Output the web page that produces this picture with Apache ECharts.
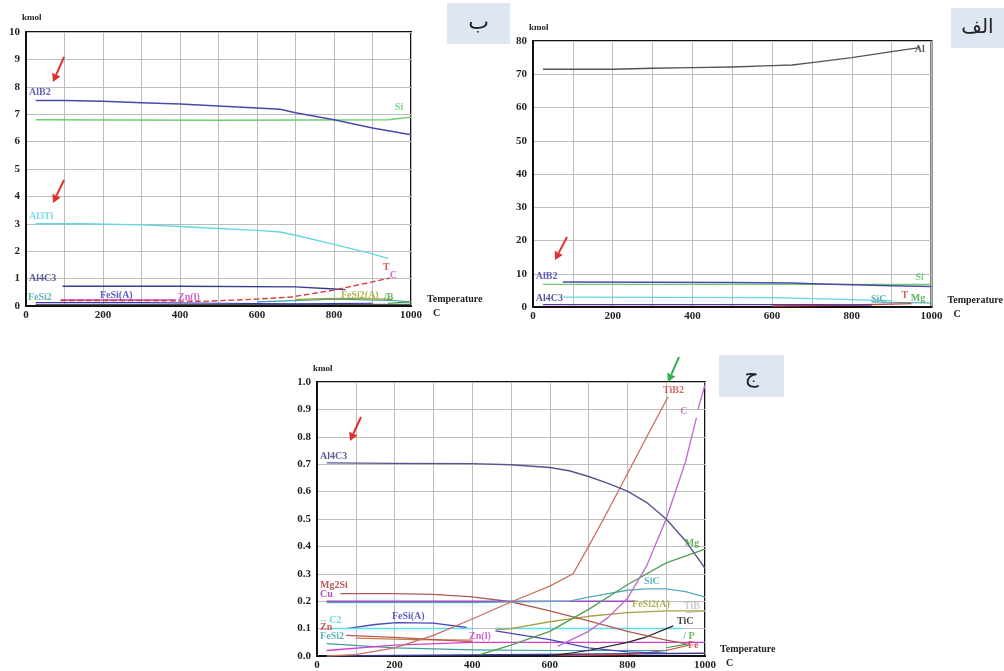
<!DOCTYPE html>
<html><head><meta charset="utf-8">
<script src="https://cdn.jsdelivr.net/npm/echarts/dist/echarts.min.js"></script>
<style>html,body{margin:0;padding:0;background:#fff}#c{width:1004px;height:671px}</style>
</head><body><div id="c"></div>
<script>
// ---------- DATA (temperature C, kmol) ----------
// Panel "ب" (top-left)
const bAlB2  = [[25,7.5],[100,7.5],[200,7.47],[300,7.42],[400,7.37],[500,7.3],[600,7.23],[660,7.18],[700,7.05],[800,6.8],[900,6.5],[1000,6.25]];
const bSi    = [[25,6.8],[500,6.78],[940,6.8],[980,6.86],[1000,6.9]];
const bAl3Ti = [[25,3.0],[150,3.0],[300,2.96],[400,2.9],[500,2.83],[600,2.76],[660,2.7],[700,2.58],[800,2.25],[900,1.9],[940,1.74]];
const bAl4C3 = [[95,0.72],[400,0.72],[700,0.7],[800,0.62],[830,0.6]];
const bTiB2  = [[90,0.2],[300,0.2],[460,0.17],[600,0.25],[690,0.33],[800,0.58],[900,0.88],[945,1.02]];
const bZnl   = [[90,0.22],[390,0.22]];
const bFeSiA = [[25,0.12],[300,0.12],[500,0.1],[700,0.08],[900,0.1]];
const bFeSi2A= [[700,0.24],[800,0.28],[950,0.25]];
const bSiC   = [[600,0.15],[800,0.25],[950,0.2],[1000,0.15]];
const bBase  = [[25,0.05],[1000,0.06]];
const bB     = [[940,0.1],[1000,0.15]];

// Panel "الف" (top-right)
const aAl    = [[25,71.5],[200,71.5],[300,71.8],[400,72],[500,72.2],[600,72.6],[650,72.8],[700,73.5],[800,75],[900,76.8],[970,78]];
const aAlB2  = [[75,7.5],[500,7.4],[650,7.2],[700,7.0],[800,6.7],[900,6.4],[1000,6.2]];
const aSi    = [[25,6.8],[1000,6.8]];
const aAl3Ti = [[75,3.0],[600,2.8],[800,2.2],[900,1.9]];
const aAl4C3 = [[25,0.7],[700,0.7],[850,0.6]];
const aTiB2  = [[600,0.3],[800,0.6],[950,1.0]];
const aSiC   = [[850,1.5],[1000,1.2]];

// Panel "ج" (bottom)
const cAl4C3 = [[25,0.705],[200,0.703],[400,0.702],[500,0.698],[600,0.688],[650,0.676],[700,0.655],[750,0.63],[800,0.602],[850,0.56],[900,0.5],[950,0.42],[1000,0.32]];
const cTiB2  = [[25,0.0],[100,0.005],[200,0.03],[300,0.075],[400,0.135],[500,0.197],[600,0.255],[660,0.3],[700,0.4],[750,0.53],[800,0.665],[850,0.8],[905,0.946]];
const cC     = [[620,0.035],[700,0.09],[750,0.14],[800,0.21],[850,0.33],[900,0.5],[950,0.71],[978,0.87],[980,null],[982,0.9],[1000,0.99]];
const cMg    = [[420,0.005],[500,0.04],[600,0.09],[700,0.17],[800,0.26],[900,0.34],[1000,0.39]];
const cSiC   = [[25,0.195],[400,0.195],[650,0.2],[700,0.215],[800,0.24],[850,0.245],[900,0.245],[950,0.235],[1000,0.215]];
const cCu    = [[25,0.2],[500,0.2],[820,0.2]];
const cMg2Si = [[60,0.228],[200,0.228],[300,0.225],[400,0.216],[500,0.198],[600,0.165],[700,0.128],[800,0.09],[900,0.058],[950,0.045]];
const cFeSi2A= [[460,0.095],[500,0.1],[600,0.125],[700,0.145],[800,0.158],[900,0.165],[1000,0.165]];
const cTiB   = [[950,0.158],[1000,0.165]];
const cTiC   = [[600,0.0],[700,0.02],[800,0.05],[850,0.07],[918,0.11]];
const cC2    = [[25,0.1],[400,0.1],[430,null],[460,0.1],[940,0.1]];
const cFeSiA = [[75,0.1],[150,0.115],[205,0.122],[300,0.12],[386,0.104],[420,null],[460,0.092],[600,0.06],[700,0.03],[800,0.015],[900,0.01]];
const cZn    = [[75,0.075],[200,0.068],[300,0.06],[400,0.052]];
const cZnl   = [[25,0.02],[200,0.04],[400,0.05],[1000,0.05]];
const cFeSi2 = [[25,0.045],[200,0.03],[400,0.022],[600,0.02],[900,0.02]];
const cFe    = [[600,0.0],[800,0.005],[900,0.02],[960,0.04]];
const cP     = [[900,0.03],[960,0.045]];
const cOlive = [[100,0.065],[250,0.06],[400,0.058]];
const cBase  = [[25,0.0],[1000,0.01]];

// tick label values
const xTicks = [0,200,400,600,800,1000];

// ---------- ANNOTATIONS (text, data position) ----------
const notesB = [['AlB2',8,7.81,'#3a3aa8'],['Si',958,7.23,'#5cc85c'],['Al3Ti',8,3.28,'#5ad0e0'],['Al4C3',8,0.99,'#2f2f80'],
  ['FeSi2',5,0.33,'#3a9fa0'],['FeSi(A)',192,0.4,'#3535b0'],['Zn(l)',395,0.33,'#c040c0'],['FeSi2(A)',818,0.4,'#a0a030'],
  ['/B',930,0.33,'#40a040'],['T',927,1.39,'#d03030'],['C',945,1.12,'#d040d0']];
const notesA = [['Al',958,77.6,'#333333'],['AlB2',7,9.3,'#3a3aa8'],['Al4C3',7,2.7,'#2f2f80'],['Si',960,9.0,'#5cc85c'],
  ['SiC',848,2.4,'#3a9fa0'],['T',925,3.6,'#d03030'],['Mg',948,2.7,'#40a040']];
const notesC = [['Al4C3',8,0.727,'#33337a'],['TiB2',892,0.971,'#d04040'],['C',936,0.891,'#c050d0'],['Mg',948,0.411,'#40a040'],
  ['SiC',843,0.273,'#3a9fb0'],['Mg2Si',8,0.258,'#a03030'],['Cu',8,0.226,'#9030a0'],['FeSi2(A)',812,0.189,'#a0a030'],
  ['TiB',946,0.182,'#c0c0c0'],['-- C2',8,0.131,'#50d0e0'],['Zn',8,0.105,'#d03030'],['FeSi(A)',193,0.145,'#3535b0'],
  ['TiC',928,0.127,'#111111'],['FeSi2',8,0.073,'#3a9fa0'],['Zn(l)',392,0.073,'#c040c0'],['/ P',944,0.073,'#40a040'],['Fe',956,0.04,'#d03030']];

const SERIF = 'Liberation Serif';
function line(data, color, g, w, dash){
  return {type:'line', data:data, xAxisIndex:g, yAxisIndex:g, showSymbol:false, symbol:'none', smooth:false,
    connectNulls:false, silent:true, z:3,
    lineStyle:{color:color, width:w||1.3, type:dash||'solid', join:'round'}};
}
function notes(list, g){
  return {type:'scatter', xAxisIndex:g, yAxisIndex:g, symbolSize:0, silent:true, clip:false, z:5,
    label:{show:true, position:'right', distance:0, fontFamily:SERIF, fontWeight:'bold', fontSize:10},
    data:list.map(n=>({value:[n[1],n[2]], label:{formatter:n[0], color:n[3]}}))};
}
function xAx(g, gap){
  return {gridIndex:g, type:'value', min:0, max:1000, interval:100,
    axisLine:{show:true, onZero:false, lineStyle:{color:'#111', width:2}}, axisTick:{show:false},
    splitLine:{show:true, lineStyle:{color:'#bcbcbc', width:1}},
    axisLabel:{formatter:v=>xTicks.indexOf(v)>=0?String(v):'', fontFamily:SERIF, fontWeight:'bold', fontSize:11, color:'#222', margin:4, showMinLabel:true, showMaxLabel:true},
    name:'{t|Temperature}\n{c|C}', nameLocation:'end', nameGap:gap,
    nameTextStyle:{fontFamily:SERIF, fontWeight:'bold', fontSize:10, color:'#222', align:'left', lineHeight:14,
      rich:{t:{fontFamily:SERIF, fontWeight:'bold', fontSize:10, color:'#222'}, c:{fontFamily:SERIF, fontWeight:'bold', fontSize:10, color:'#222', padding:[0,0,0,6]}}}};
}
function yAx(g, max, iv, fmt, gap){
  return {gridIndex:g, type:'value', min:0, max:max, interval:iv,
    axisLine:{show:true, lineStyle:{color:'#111', width:2}}, axisTick:{show:false},
    splitLine:{show:true, lineStyle:{color:'#bcbcbc', width:1}},
    axisLabel:{formatter:fmt, fontFamily:SERIF, fontWeight:'bold', fontSize:11, color:'#222', margin:6},
    name:'kmol', nameLocation:'end', nameGap:gap,
    nameTextStyle:{fontFamily:SERIF, fontWeight:'bold', fontSize:9, color:'#222', align:'left', padding:[0,0,0,-4]}};
}
function arrow(x1,y1,x2,y2,color){
  const a=Math.atan2(y2-y1,x2-x1), L=8, W=4.5;
  const bx=x2-L*Math.cos(a), by=y2-L*Math.sin(a);
  return [{type:'line', shape:{x1:x1,y1:y1,x2:bx,y2:by}, style:{stroke:color, lineWidth:2}, z:10},
    {type:'polygon', shape:{points:[[x2,y2],[bx+W*Math.sin(a),by-W*Math.cos(a)],[bx-W*Math.sin(a),by+W*Math.cos(a)]]}, style:{fill:color}, z:10}];
}
function box(x,y,w,h,txt,fs){
  return [{type:'rect', shape:{x:x,y:y,width:w,height:h}, style:{fill:'#dde6f1'}, z:1},
    {type:'text', x:x+w/2, y:y+h/2, style:{text:txt, fontFamily:'DejaVu Sans', fontSize:fs, fill:'#222', align:'center', verticalAlign:'middle'}, z:2}];
}

const chart = echarts.init(document.getElementById('c'), null, {renderer:'canvas'});
const gridStyle = {show:true, borderColor:'#111', borderWidth:2, backgroundColor:'transparent', containLabel:false};
chart.setOption({
  animation:false,
  backgroundColor:'#ffffff',
  grid:[Object.assign({left:26, top:32, width:385, height:274}, gridStyle),
        Object.assign({left:533, top:41, width:401, height:266}, gridStyle),
        Object.assign({left:317, top:382, width:388, height:275}, gridStyle)],
  xAxis:[xAx(0,16), xAx(1,16), xAx(2,15)],
  yAxis:[yAx(0,10,1,v=>String(v),10), yAx(1,80,10,v=>String(v),9), yAx(2,1,0.1,v=>v.toFixed(1),9)],
  series:[
    line(bBase,'#555555',0,1.2), line(bSiC,'#3a9fb0',0,1.2), line(bFeSiA,'#3535b0',0,1.2), line(bB,'#40a040',0,1.2),
    line(bFeSi2A,'#a0a030',0,1.2), line(bZnl,'#c040c0',0,1.5), line(bAl4C3,'#3a3a90',0,1.3),
    line(bTiB2,'#d04040',0,1.4,'dashed'), line(bAl3Ti,'#66d6e6',0,1.4), line(bSi,'#6fcf6f',0,1.4), line(bAlB2,'#4a4aa8',0,1.5),
    notes(notesB,0),
    line(aSiC,'#3a9fb0',1,1.2), line(aTiB2,'#d04040',1,1.3), line(aAl4C3,'#5a3a90',1,1.3), line(aAl3Ti,'#66d6e6',1,1.3),
    line(aSi,'#6fcf6f',1,1.4), line(aAlB2,'#4a4aa8',1,1.5), line(aAl,'#555555',1,1.4),
    notes(notesA,1),
    line(cBase,'#3a3a90',2,1.5), line(cOlive,'#c08040',2,1.2), line(cP,'#40a040',2,1.2), line(cFe,'#d04040',2,1.2),
    line(cFeSi2,'#3a9f9f',2,1.2), line(cZnl,'#d040d0',2,1.3), line(cZn,'#c05050',2,1.2), line(cFeSiA,'#4848c0',2,1.3),
    line(cC2,'#5fdcea',2,1.5), line(cTiC,'#222222',2,1.2), line(cTiB,'#c8c8c8',2,1.3), line(cFeSi2A,'#a8a040',2,1.3),
    line(cMg2Si,'#b05a50',2,1.3), line(cCu,'#9a4ac8',2,1.4), line(cSiC,'#5aaabb',2,1.3), line(cMg,'#4ea04e',2,1.3),
    line(cC,'#c464d4',2,1.3), line(cTiB2,'#c87060',2,1.3), line(cAl4C3,'#55558f',2,1.4),
    notes(notesC,2)
  ],
  graphic:[].concat(
    box(447,3,63,41,'ب',22), box(951,8,53,40,'الف',20), box(719,355,65,42,'ج',22),
    arrow(64,57,53,82,'#e03030'), arrow(64,180,53,203,'#e03030'), arrow(567,237,555,260,'#e03030'),
    arrow(361,417,350,441,'#e03030'), arrow(679,357,668,382,'#30b050')
  )
});
</script></body></html>
